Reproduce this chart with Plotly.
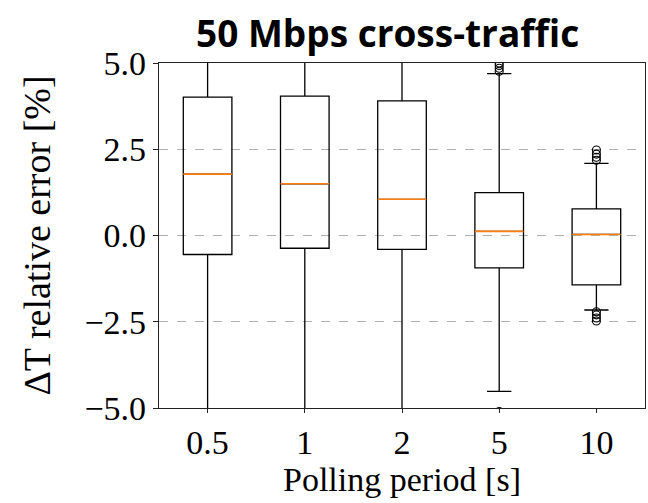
import plotly.graph_objects as go

categories = ["0.5", "1", "2", "5", "10"]
q1 = [-0.55, -0.37, -0.40, -0.94, -1.43]
median = [1.78, 1.50, 1.05, 0.12, 0.03]
q3 = [4.01, 4.04, 3.90, 1.24, 0.77]
lowerfence = [-7.5, -6.8, -6.8, -4.52, -2.16]
upperfence = [8.5, 8.4, 8.2, 4.69, 2.09]
outlier_cat = ["5", "5", "5", "5", "5", "10", "10", "10", "10", "10", "10", "10", "10"]
outlier_val = [4.76, 4.85, 4.93, 5.0, -5.1, 2.18, 2.27, 2.36, 2.48, -2.21, -2.3, -2.39, -2.48]

pos = list(range(1, len(categories) + 1))
posmap = dict(zip(categories, pos))

fig = go.Figure()
fig.add_trace(go.Box(
    x=pos, q1=q1, median=median, q3=q3,
    lowerfence=lowerfence, upperfence=upperfence,
    width=0.5, whiskerwidth=0.5, boxpoints=False,
    fillcolor="rgba(0,0,0,0)", line=dict(color="black", width=1.3),
    showlegend=False, hoverinfo="skip",
))

mx, my = [], []
for p, m in zip(pos, median):
    mx += [p - 0.25, p + 0.25, None]
    my += [m, m, None]
fig.add_trace(go.Scatter(x=mx, y=my, mode="lines",
                         line=dict(color="#ff7f0e", width=1.6),
                         showlegend=False, hoverinfo="skip"))

fig.add_trace(go.Scatter(
    x=[posmap[c] for c in outlier_cat], y=outlier_val, mode="markers",
    marker=dict(symbol="circle-open", size=8, color="black", line=dict(width=1.1)),
    cliponaxis=True, showlegend=False, hoverinfo="skip"))

serif = "Liberation Serif"
fig.update_layout(
    width=648, height=503,
    margin=dict(l=159, r=3, t=63, b=95),
    paper_bgcolor="white", plot_bgcolor="white",
    font=dict(family=serif, size=34, color="black"),
    xaxis=dict(
        range=[0.5, 5.5], tickmode="array", tickvals=pos, ticktext=categories,
        showgrid=False, zeroline=False, showline=True, linecolor="#222", linewidth=1.2,
        mirror=True, ticks="outside", ticklen=4, tickwidth=1, tickcolor="#222",
        tickfont=dict(family=serif, size=34),
        title=dict(text="Polling period [s]", font=dict(family=serif, size=34), standoff=0),
    ),
    yaxis=dict(
        range=[-5, 5], tickmode="array", tickvals=[-5, -2.5, 0, 2.5, 5],
        ticktext=["\u22125.0", "\u22122.5", "0.0", "2.5", "5.0"],
        showgrid=True, gridcolor="#b0b0b0", griddash="dash", gridwidth=1,
        zeroline=False, showline=True, linecolor="#222", linewidth=1.2,
        mirror=True, ticks="outside", ticklen=5, tickwidth=1, tickcolor="#222",
        tickfont=dict(family=serif, size=34),
        title=dict(text="\u0394T relative error [%]", font=dict(family=serif, size=38), standoff=22),
    ),
    annotations=[dict(
        text="<b>50 Mbps cross-traffic</b>", xref="paper", yref="paper",
        x=0.47, y=1.0, yshift=31, xanchor="center", yanchor="middle", showarrow=False,
        font=dict(family="Open Sans", size=37, color="black"),
    )],
)

fig.write_html("out.html")
